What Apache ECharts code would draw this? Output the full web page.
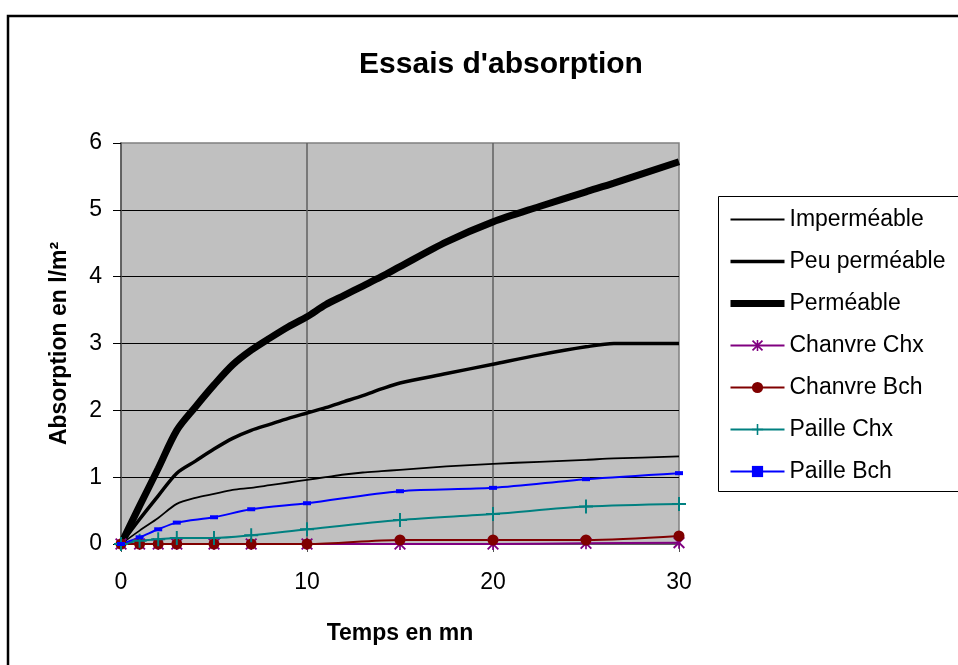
<!DOCTYPE html>
<html>
<head>
<meta charset="utf-8">
<script src="https://cdn.jsdelivr.net/npm/echarts@6/dist/echarts.min.js"></script>
<style>html,body{margin:0;padding:0;background:#fff}#c{width:958px;height:665px}</style>
</head>
<body>
<div id="c"></div>
<script>
// Reference curves (fine time grid, minutes)
var tRef = [0,1,2,3,4,5,6,7,8,9,10,11,12,13,14,15,17.5,20,22.5,25,26.5,30];
var impermeable   = [0,0.2,0.39,0.6,0.69,0.75,0.81,0.84,0.88,0.92,0.96,1.0,1.04,1.07,1.09,1.11,1.16,1.2,1.23,1.26,1.28,1.31];
var peuPermeable  = [0,0.37,0.72,1.06,1.24,1.42,1.58,1.7,1.79,1.88,1.96,2.04,2.13,2.22,2.32,2.41,2.55,2.69,2.83,2.95,3.0,3.0];
var permeable     = [0,0.57,1.13,1.7,2.05,2.38,2.68,2.9,3.08,3.25,3.4,3.58,3.72,3.86,4.0,4.15,4.52,4.82,5.05,5.27,5.4,5.72];
// Measured samples
var tMes = [0,1,2,3,5,7,10,15,20,25,30];
var chanvreChx = [0,0,0,0,0,0,0,0,0,0.01,0.02];
var chanvreBch = [0,0,0,0,0,0,0,0.06,0.06,0.06,0.12];
var pailleChx  = [0,0.05,0.07,0.09,0.09,0.13,0.22,0.36,0.45,0.56,0.6];
var pailleBch  = [0,0.1,0.22,0.32,0.4,0.52,0.61,0.79,0.84,0.97,1.06];
var seriesNames = ['Imperméable','Peu perméable','Perméable','Chanvre Chx','Chanvre Bch','Paille Chx','Paille Bch'];

function pairs(xs, ys){ return xs.map(function(x,i){ return [x, ys[i]]; }); }

var FONT = '"Liberation Sans", Arial, sans-serif';
var asterisk = 'path://M4.3,0H5.7V10H4.3Z M0,1.1L1.1,0L10,8.9L8.9,10Z M8.9,0L10,1.1L1.1,10L0,8.9Z';
var plus = 'path://M4.3,0H5.7V10H4.3Z M0,4.3H10V5.7H0Z';
var W = [1.8, 3.5, 7];

var chart = echarts.init(document.getElementById('c'), null, {renderer:'canvas'});
chart.setOption({
  animation:false,
  backgroundColor:'#fff',
  textStyle:{fontFamily:FONT},
  title:{
    text:"Essais d'absorption",
    left:496, top:45, textAlign:'center',
    textStyle:{fontFamily:FONT, fontSize:30, fontWeight:'bold', color:'#000'}
  },
  graphic:[
    {type:'rect', z:0, shape:{x:8, y:16, width:1000, height:700}, style:{fill:'none', stroke:'#000', lineWidth:2.5}},
    {type:'rect', z:0, shape:{x:718.5, y:196.5, width:300, height:295}, style:{fill:'none', stroke:'#000', lineWidth:1}}
  ],
  legend:{
    orient:'vertical', left:727, top:208, padding:0,
    itemWidth:54, itemHeight:14, itemGap:19,
    data:[
      {name:seriesNames[0], itemStyle:{opacity:0}, lineStyle:{width:W[0]}},
      {name:seriesNames[1], itemStyle:{opacity:0}, lineStyle:{width:W[1]}},
      {name:seriesNames[2], itemStyle:{opacity:0}, lineStyle:{width:W[2]}},
      {name:seriesNames[3], lineStyle:{width:2}},
      {name:seriesNames[4], lineStyle:{width:2}},
      {name:seriesNames[5], lineStyle:{width:2}},
      {name:seriesNames[6], lineStyle:{width:2}}
    ],
    textStyle:{fontFamily:FONT, fontSize:23, color:'#000', lineHeight:22}
  },
  grid:{left:121, top:143, right:279, bottom:121, show:true, backgroundColor:'#C0C0C0', borderColor:'#808080', borderWidth:1.5},
  xAxis:{
    type:'value', min:0, max:30, interval:10,
    name:'Temps en mn', nameLocation:'middle', nameGap:78,
    nameTextStyle:{fontFamily:FONT, fontSize:23, fontWeight:'bold', color:'#000'},
    axisLine:{show:true, onZero:false, lineStyle:{color:'#505050', width:1.5}},
    axisTick:{show:true, length:8, lineStyle:{color:'#505050', width:1}},
    axisLabel:{fontFamily:FONT, fontSize:23, color:'#000', margin:27},
    splitLine:{show:true, showMinLine:false, showMaxLine:false, lineStyle:{color:'#606060', width:1.5}}
  },
  yAxis:{
    type:'value', min:0, max:6, interval:1,
    name:'Absorption en l/m²', nameLocation:'middle', nameGap:50,
    nameTextStyle:{fontFamily:FONT, fontSize:23, fontWeight:'bold', color:'#000'},
    axisLine:{show:true, onZero:false, lineStyle:{color:'#505050', width:1.5}},
    axisTick:{show:true, length:8, lineStyle:{color:'#000', width:1}},
    axisLabel:{fontFamily:FONT, fontSize:23, color:'#000', margin:19},
    splitLine:{show:true, showMinLine:false, showMaxLine:false, lineStyle:{color:'#000', width:1}}
  },
  series:[
    {name:seriesNames[0], type:'line', data:pairs(tRef, impermeable), symbol:'none', smooth:0.3,
      itemStyle:{color:'#000'}, lineStyle:{color:'#000', width:W[0]}},
    {name:seriesNames[1], type:'line', data:pairs(tRef, peuPermeable), symbol:'none', smooth:0.3,
      itemStyle:{color:'#000'}, lineStyle:{color:'#000', width:W[1]}},
    {name:seriesNames[2], type:'line', data:pairs(tRef, permeable), symbol:'none', smooth:0.3,
      itemStyle:{color:'#000'}, lineStyle:{color:'#000', width:W[2]}},
    {name:seriesNames[3], type:'line', data:pairs(tMes, chanvreChx), symbol:asterisk, symbolSize:12, smooth:0.3,
      itemStyle:{color:'#800080', borderWidth:0}, lineStyle:{color:'#800080', width:2}},
    {name:seriesNames[4], type:'line', data:pairs(tMes, chanvreBch), symbol:'circle', symbolSize:11, smooth:0.3,
      itemStyle:{color:'#800000', borderWidth:0}, lineStyle:{color:'#800000', width:2}},
    {name:seriesNames[5], type:'line', data:pairs(tMes, pailleChx), symbol:plus, symbolSize:14, smooth:0.3,
      itemStyle:{color:'#008080', borderWidth:0}, lineStyle:{color:'#008080', width:2}},
    {name:seriesNames[6], type:'line', data:pairs(tMes, pailleBch), symbol:'rect', symbolSize:[8,4], smooth:0.3,
      itemStyle:{color:'#0000FF', borderWidth:0}, lineStyle:{color:'#0000FF', width:2}}
  ]
});
</script>
</body>
</html>
